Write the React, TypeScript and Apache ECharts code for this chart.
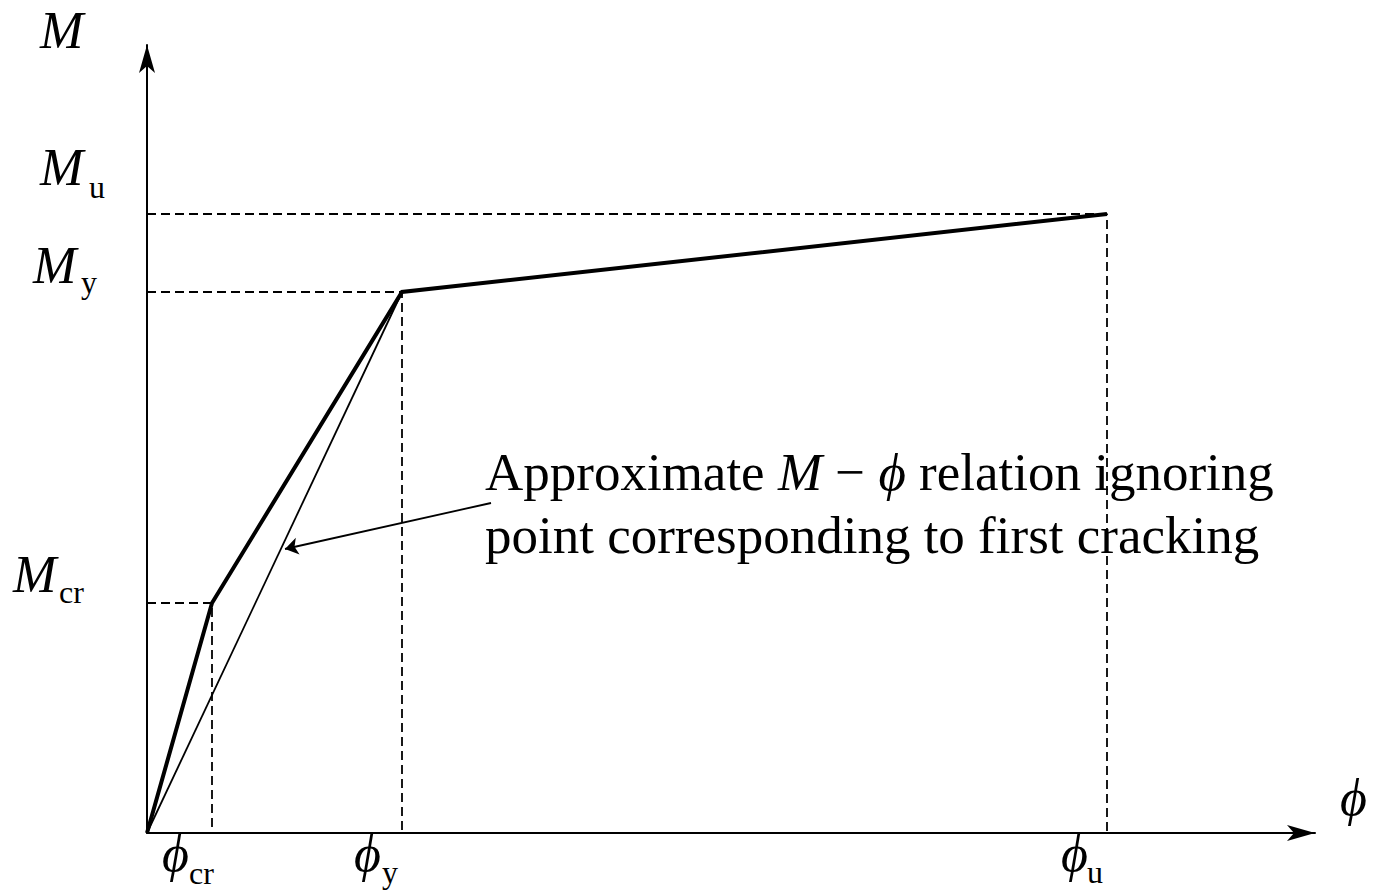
import React, { useEffect, useRef } from "react";
import * as echarts from "echarts";

// ---- data (schematic units) ----
const phiCurve = [0, 0.65, 2.55, 9.6];
const mCurve = [0, 2.3, 5.41, 6.19];
const approxPhi = [0, 2.55];
const approxM = [0, 5.41];
const phiTicks = [0.65, 2.55, 9.6];
const phiSubs = ["cr", "y", "u"];
const mTicks = [2.3, 5.41, 6.19];
const mSubs = ["cr", "y", "u"];
const phiMax = 11.68;
const mMax = 7.88;
const arrowFrom = [3.44, 3.3];
const arrowTo = [1.38, 2.84];
const noteLine1 = "{n|Approximate }{i|M}{n| − }{i|ϕ}{n| relation ignoring}";
const noteLine2 = "point corresponding to first cracking";

// ---- layout / style ----
const FONT = '"Liberation Serif", "Times New Roman", serif';
const MAIN = 52;
const NOTE = 53;
const SUB = 32;
// offsets of label pieces relative to axis position / tick pixel
const mLabelLayout = [
  { mx: 13, my: -28.5, sx: 59, sy: -11 },
  { mx: 33, my: -26.5, sx: 81, sy: -10.5 },
  { mx: 40, my: -46.5, sx: 89, sy: -27.5 },
];
const phiLabelLayout = [
  { mdx: -50, my: 20, sdx: -23, sy: 40 },
  { mdx: -48, my: 20, sdx: -20, sy: 39 },
  { mdx: -46, my: 20, sdx: -20, sy: 39 },
];

function txt(x: number, y: number, text: string, size: number, italic: boolean) {
  return {
    type: "text",
    x,
    y,
    silent: true,
    style: {
      text,
      fontSize: size,
      fontFamily: FONT,
      fontStyle: italic ? "italic" : "normal",
      fill: "#000",
      align: "left",
      verticalAlign: "middle",
      textAlign: "left",
      textVerticalAlign: "middle",
    },
  };
}

export default function App() {
  const ref = useRef<HTMLDivElement>(null);
  useEffect(() => {
    if (!ref.current) return;
    const chart = echarts.init(ref.current, null, { renderer: "svg" });
    const axisCommon = {
      type: "value",
      min: 0,
      axisLine: {
        show: true,
        symbol: ["none", "arrow"],
        symbolSize: [12, 28],
        lineStyle: { color: "#000", width: 2 },
      },
      axisTick: { show: false },
      axisLabel: { show: false },
      splitLine: { show: false },
    };
    const dash = { color: "#000", width: 1.8, type: [9, 5] };
    const dashedSeries = phiTicks.map((p, i) => ({
      type: "line",
      symbol: "none",
      silent: true,
      lineStyle: dash,
      data: [
        [0, mTicks[i]],
        [p, mTicks[i]],
        [p, 0],
      ],
      z: 1,
    }));
    chart.setOption({
      animation: false,
      grid: { left: 147, top: 45, width: 1168, height: 788, containLabel: false },
      xAxis: { ...axisCommon, max: phiMax },
      yAxis: { ...axisCommon, max: mMax },
      series: [
        ...dashedSeries,
        {
          type: "line",
          symbol: "none",
          silent: true,
          lineStyle: { color: "#000", width: 1.8 },
          data: approxPhi.map((p, i) => [p, approxM[i]]),
          z: 2,
          markLine: {
            silent: true,
            symbol: ["none", "arrow"],
            symbolSize: 13,
            label: { show: false },
            lineStyle: { color: "#000", width: 1.8, type: "solid" },
            data: [[{ coord: arrowFrom }, { coord: arrowTo }]],
          },
        },
        {
          type: "line",
          symbol: "none",
          silent: true,
          lineStyle: { color: "#000", width: 4, join: "miter" },
          data: phiCurve.map((p, i) => [p, mCurve[i]]),
          z: 3,
        },
      ],
    });

    const origin = chart.convertToPixel({ gridIndex: 0 }, [0, 0]) as number[];
    const graphics: any[] = [];
    mTicks.forEach((m, i) => {
      const py = (chart.convertToPixel({ gridIndex: 0 }, [0, m]) as number[])[1];
      const L = mLabelLayout[i];
      graphics.push(txt(L.mx, py + L.my, "M", MAIN, true));
      graphics.push(txt(L.sx, py + L.sy, mSubs[i], SUB, false));
    });
    phiTicks.forEach((p, i) => {
      const px = (chart.convertToPixel({ gridIndex: 0 }, [p, 0]) as number[])[0];
      const L = phiLabelLayout[i];
      graphics.push(txt(px + L.mdx, origin[1] + L.my, "ϕ", MAIN, true));
      graphics.push(txt(px + L.sdx, origin[1] + L.sy, phiSubs[i], SUB, false));
    });
    const top = chart.convertToPixel({ gridIndex: 0 }, [0, mMax]) as number[];
    const right = chart.convertToPixel({ gridIndex: 0 }, [phiMax, 0]) as number[];
    graphics.push(txt(top[0] - 107, top[1] - 15, "M", MAIN, true));
    graphics.push(txt(right[0] + 25, right[1] - 36, "ϕ", MAIN, true));
    graphics.push({
      type: "text",
      x: 485,
      y: 472,
      silent: true,
      style: {
        text: noteLine1,
        fontSize: NOTE,
        fontFamily: FONT,
        fill: "#000",
        align: "left",
        verticalAlign: "middle",
        textAlign: "left",
        textVerticalAlign: "middle",
        rich: {
          n: { fontSize: NOTE, fontFamily: FONT, fill: "#000", lineHeight: 60 },
          i: { fontSize: NOTE, fontFamily: FONT, fontStyle: "italic", fill: "#000", lineHeight: 60 },
        },
      },
    });
    graphics.push(txt(485, 535, noteLine2, NOTE, false));
    chart.setOption({ graphic: graphics });

    return () => chart.dispose();
  }, []);
  return (
    <div
      ref={ref}
      style={{ position: "absolute", left: 0, top: 0, width: 1374, height: 895, background: "#fff" }}
    />
  );
}
